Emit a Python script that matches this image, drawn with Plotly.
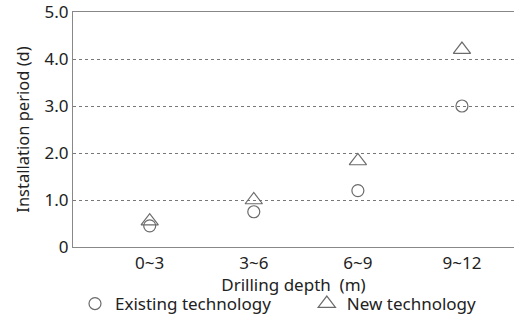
import plotly.graph_objects as go

categories = ["0~3", "3~6", "6~9", "9~12"]
existing = [0.45, 0.75, 1.2, 3.0]
new_tech = [0.55, 1.0, 1.83, 4.2]
y_ticks = [0, 1, 2, 3, 4, 5]
y_tick_labels = ["0", "1.0", "2.0", "3.0", "4.0", "5.0"]
series_names = ["Existing technology", "New technology"]

FONT = "Noto Sans, Open Sans, sans-serif"
MK = "#6b6b6b"
TXT = "#222"
PAD = "\u00a0" * 7

W, H = 515, 325
ML, MR, MT, MB = 73, 1, 12, 78
PW = W - ML - MR
PH = H - MT - MB

fig = go.Figure()
fig.add_trace(go.Scatter(
    x=categories, y=existing, mode="markers", name=series_names[0] + PAD,
    marker=dict(symbol="circle-open", size=12, color=MK, line=dict(width=1.2, color=MK)),
))
fig.add_trace(go.Scatter(
    x=categories, y=new_tech, mode="markers", name=series_names[1],
    marker=dict(symbol="triangle-up-open", size=15, color=MK, line=dict(width=1.2, color=MK)),
))

fig.update_layout(
    width=W, height=H,
    margin=dict(l=ML, r=MR, t=MT, b=MB),
    paper_bgcolor="white", plot_bgcolor="white",
    font=dict(family=FONT, size=16, color=TXT),
    showlegend=True,
    legend=dict(orientation="h", x=2 / PW, xanchor="left", y=-(286 - 247) / PH, yanchor="top",
                font=dict(size=17), itemwidth=30),
)
fig.update_xaxes(
    type="category", range=[-0.737, 3.5], automargin=False,
    showline=True, mirror=True, linecolor="#888", linewidth=1.2,
    showgrid=False, ticks="", tickfont=dict(size=17),
    title=dict(text="Drilling depth  (m)", font=dict(size=17), standoff=0),
)
fig.update_yaxes(
    range=[0, 5], tickvals=y_ticks, ticktext=y_tick_labels, automargin=False,
    showline=True, linecolor="#888", linewidth=1.2,
    showgrid=True, gridcolor="#777", griddash="dot", gridwidth=1,
    zeroline=False, ticks="",
    tickfont=dict(size=17), ticklabeloverflow="allow",
    title=dict(text="Installation period (d)", font=dict(size=16.5), standoff=10),
)

fig.write_html("out.html", config={"displayModeBar": False},
               post_script="document.body.style.margin='0';")
